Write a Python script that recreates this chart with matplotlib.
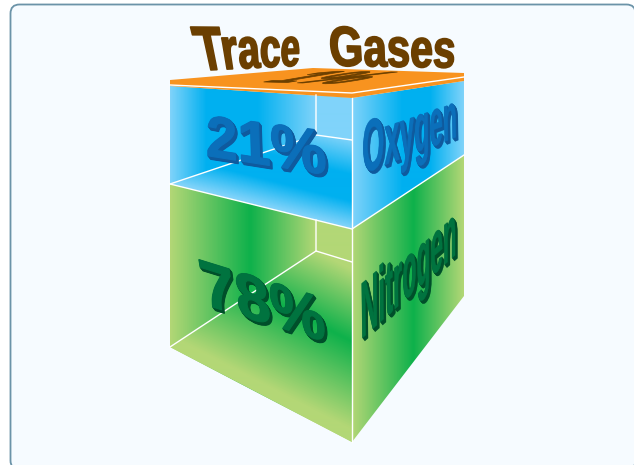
import numpy as np
import matplotlib
matplotlib.use("Agg")
import matplotlib.pyplot as plt
from matplotlib.colors import LinearSegmentedColormap, to_rgb
from matplotlib.patches import FancyBboxPatch, Polygon
from matplotlib.path import Path
from matplotlib.patheffects import AbstractPathEffect
from matplotlib.transforms import IdentityTransform

# colours
LIGHT_BLUE = "#80d3fa"
DEEP_BLUE = "#00b0f0"
LIGHT_GREEN = "#b3d776"
DEEP_GREEN = "#0eb14b"
ORANGE = "#f8931f"
BROWN = "#6b3f00"

# faces of the block, in image pixels
top_face = [(170, 80), (313, 68), (464, 73), (464, 81), (352, 98), (170, 86)]
top_edge = [(170, 85), (352, 93), (464, 77)]
blue_left = [(170, 86), (352, 98), (352, 229), (170, 184)]
blue_right = [(352, 98), (464, 81), (464, 155), (352, 229)]
blue_floor = [(170, 184), (316, 135), (352, 140), (352, 229)]
blue_inner = [(316, 95), (352, 98), (352, 140), (316, 135)]
green_left = [(170, 184), (352, 229), (352, 442), (170, 347)]
green_right = [(352, 229), (464, 155), (464, 296), (352, 442)]
green_floor = [(170, 347), (316, 251), (352, 262), (352, 442)]
green_inner = [(316, 220), (352, 229), (352, 262), (316, 251)]

# white edges of the block
edges = [
    [(170, 184), (352, 229), (464, 155)],
    [(352, 98), (352, 442)],
    [(316, 95), (316, 135), (352, 140)],
    [(316, 135), (170, 184)],
    [(316, 220), (316, 251), (352, 262)],
    [(316, 251), (170, 347)],
]

# labels: text, corners of the text (tl, tr, br, bl), face colour, side colour, depth, stroke, size
labels = [
    ("Trace", [(190, 27), (300, 28), (298, 66), (201, 71)], BROWN, BROWN, 0, 1.2, 26),
    ("Gases", [(327, 26), (455, 30), (453, 68), (331, 66)], BROWN, BROWN, 0, 1.2, 30),
    ("1%", [(325, 71), (407, 72), (335, 84), (260, 82)], BROWN, BROWN, 0, 0.5, 6),
    ("21%", [(206, 115), (323, 130), (326, 175), (206, 156)], "#0b6fba", "#0f5a9e", 3.5, 0.8, 40),
    ("Oxygen", [(362, 122), (455, 92), (456, 151), (362, 190)], "#0b6fba", "#0f5a9e", 3, 0.3, 18),
    ("78%", [(196, 258), (322, 297), (325, 342), (204, 305)], "#00733f", "#004f2a", 3.5, 0.8, 40),
    ("Nitrogen", [(360, 282), (455, 201), (455, 271), (361, 356)], "#00733f", "#004f2a", 3, 0.3, 13),
]


def homography(src, dst):
    rows = []
    rhs = []
    for (x, y), (u, v) in zip(src, dst):
        rows.append([x, y, 1, 0, 0, 0, -u * x, -u * y])
        rows.append([0, 0, 0, x, y, 1, -v * x, -v * y])
        rhs += [u, v]
    return np.append(np.linalg.solve(np.array(rows), np.array(rhs)), 1).reshape(3, 3)


class QuadText(AbstractPathEffect):
    """Warp a text onto four corners and give it a side in a darker colour."""

    def __init__(self, quad, side, depth, stroke):
        super().__init__()
        self.quad = quad
        self.side = to_rgb(side)
        self.depth = depth
        self.stroke = stroke

    def draw_path(self, renderer, gc, tpath, affine, rgbFace=None):
        verts = affine.transform(tpath.vertices)
        x0, y0 = verts.min(axis=0)
        x1, y1 = verts.max(axis=0)
        src = [(x0, y1), (x1, y1), (x1, y0), (x0, y0)]
        dst = ax.transData.transform(self.quad)
        h = homography(src, dst)
        pts = np.c_[verts, np.ones(len(verts))] @ h.T
        pts = pts[:, :2] / pts[:, 2:]
        gc0 = renderer.new_gc()
        gc0.copy_properties(gc)
        gc0.set_linewidth(self.stroke)
        gc0.set_foreground(self.side)
        for d in np.arange(self.depth, 0, -0.5):
            shifted = Path(pts + [d * 0.8, -d], tpath.codes)
            renderer.draw_path(gc0, shifted, IdentityTransform(), self.side)
        gc0.set_foreground(rgbFace[:3])
        renderer.draw_path(gc0, Path(pts, tpath.codes), IdentityTransform(), rgbFace)
        gc0.restore()


def gradient(poly, start, end, stops):
    # colour runs from start to end, measured along that line
    cmap = LinearSegmentedColormap.from_list("g", stops)
    xs, ys = np.meshgrid(np.arange(634) + 0.5, np.arange(465) + 0.5)
    d = np.array(end, float) - np.array(start, float)
    t = ((xs - start[0]) * d[0] + (ys - start[1]) * d[1]) / (d @ d)
    im = ax.imshow(np.clip(t, 0, 1), cmap=cmap, vmin=0, vmax=1, extent=(0, 634, 465, 0),
                   interpolation="bilinear", aspect="auto", zorder=2)
    patch = Polygon(poly, closed=True, transform=ax.transData)
    im.set_clip_path(patch)


fig = plt.figure(figsize=(6.34, 4.65), dpi=100)
ax = fig.add_axes([0, 0, 1, 1])
ax.set_xlim(0, 634)
ax.set_ylim(465, 0)
ax.axis("off")

ax.add_patch(FancyBboxPatch((10.5, 4.5), 625, 465, boxstyle="round,pad=0,rounding_size=9",
                            fc="#f6fbff", ec="#6b93a8", lw=1.3, zorder=1))

gradient(blue_left, (170, 0), (316, 0), [(0, LIGHT_BLUE), (0.25, DEEP_BLUE), (0.6, DEEP_BLUE), (1, LIGHT_BLUE)])
gradient(blue_right, (352, 0), (464, 0), [(0, LIGHT_BLUE), (0.45, DEEP_BLUE), (0.7, DEEP_BLUE), (1, LIGHT_BLUE)])
gradient(blue_floor, (352, 140), (331, 223), [(0, LIGHT_BLUE), (0.4, DEEP_BLUE), (0.7, DEEP_BLUE), (1, LIGHT_BLUE)])
gradient(blue_inner, (316, 0), (352, 0), [LIGHT_BLUE, LIGHT_BLUE])
gradient(green_left, (170, 0), (316, 0), [(0, LIGHT_GREEN), (0.55, DEEP_GREEN), (1, LIGHT_GREEN)])
gradient(green_right, (352, 0), (464, 0), [(0, LIGHT_GREEN), (0.55, DEEP_GREEN), (1, LIGHT_GREEN)])
gradient(green_floor, (352, 270), (287, 396), [(0, LIGHT_GREEN), (0.45, DEEP_GREEN), (1, LIGHT_GREEN)])
gradient(green_inner, (316, 0), (352, 0), [LIGHT_GREEN, LIGHT_GREEN])

ax.add_patch(Polygon(top_face, closed=True, fc=ORANGE, ec="none", zorder=3))
ax.plot(*zip(*top_edge), color="white", lw=1, zorder=4)
for line in edges:
    ax.plot(*zip(*line), color="white", lw=1, zorder=4, solid_joinstyle="miter")

for s, quad, face, side, depth, stroke, size in labels:
    cx, cy = np.mean(quad, axis=0)
    t = ax.text(cx, cy, s, color=face, fontsize=size, fontweight="bold", ha="center", va="center",
                family="Liberation Sans", zorder=5)
    t.set_path_effects([QuadText(quad, side, depth, stroke)])

fig.savefig("out.png", dpi=100)
